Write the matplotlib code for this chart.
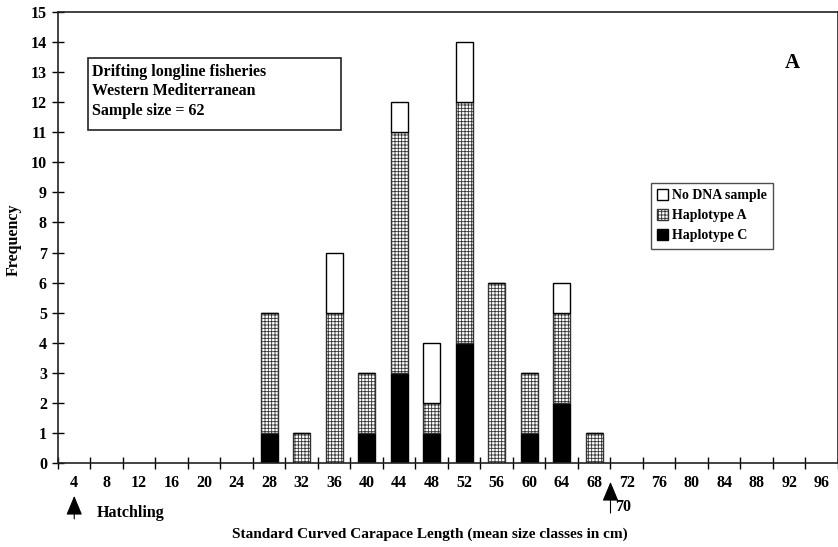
import numpy as np
import matplotlib.pyplot as plt
from matplotlib.patches import Rectangle

plt.rcParams['font.family'] = ['Liberation Serif', 'DejaVu Serif']
plt.rcParams['font.weight'] = 'bold'
plt.rcParams['hatch.linewidth'] = 0.6

# size classes (cm)
classes = list(range(4, 100, 4))
bar_classes = [28, 32, 36, 40, 44, 48, 52, 56, 60, 64, 68]
hap_c = [1, 0, 0, 1, 3, 1, 4, 0, 1, 2, 0]
hap_a = [4, 1, 5, 2, 8, 1, 8, 6, 2, 3, 1]
no_dna = [0, 0, 2, 0, 1, 2, 2, 0, 0, 1, 0]

fig = plt.figure(figsize=(8.38, 5.47), dpi=100)
ax = fig.add_axes([0.0692, 0.1536, 0.9308, 0.8244])

x = np.array(bar_classes)
c = np.array(hap_c)
a = np.array(hap_a)
n = np.array(no_dna)
w = 2.1
ax.bar(x, c, w, color='black', edgecolor='black', lw=1, label='Haplotype C')
ax.bar(x, a, w, bottom=c, color='white', edgecolor='#333333', hatch='+++++',
       lw=1, label='Haplotype A')
ax.bar(x, n, w, bottom=c + a, color='white', edgecolor='black', lw=1,
       label='No DNA sample')

ax.set_xlim(2, 98)
ax.set_ylim(0, 15)
ax.set_yticks(range(0, 16))
ax.set_xticks(classes)
ax.set_xticklabels([str(v) for v in classes])
ax.set_xticks(np.arange(2, 99, 4), minor=True)
ax.tick_params(axis='x', which='major', length=0, pad=9, labelsize=11.5)
ax.tick_params(axis='x', which='minor', direction='inout', length=8, width=1)
ax.tick_params(axis='y', direction='inout', length=8, width=1, labelsize=11.5, pad=4)
for s in ax.spines.values():
    s.set_linewidth(1.2)
    s.set_color('#222222')

ax.set_ylabel('Frequency', fontsize=11.5, fontweight='bold')
ax.yaxis.set_label_coords(-0.047, 0.494)
ax.set_xlabel('Standard Curved Carapace Length (mean size classes in cm)',
              fontsize=11, fontweight='bold')
ax.xaxis.set_label_coords(0.477, -0.143)

# info box
ax.add_patch(Rectangle((0.038, 0.738), 0.325, 0.160, transform=ax.transAxes,
                       fill=False, edgecolor='#222222', lw=1.2))
ax.text(0.044, 0.868, 'Drifting longline fisheries', transform=ax.transAxes,
        fontsize=11.5, va='center', ha='left')
ax.text(0.044, 0.824, 'Western Mediterranean', transform=ax.transAxes,
        fontsize=11.5, va='center', ha='left')
ax.text(0.044, 0.780, 'Sample size = 62', transform=ax.transAxes,
        fontsize=11.5, va='center', ha='left')

ax.text(0.942, 0.887, 'A', transform=ax.transAxes, fontsize=15, ha='center', va='center')

h, l = ax.get_legend_handles_labels()
leg = ax.legend(h[::-1], l[::-1], loc='upper left', bbox_to_anchor=(0.760, 0.621),
                fontsize=10, frameon=True, fancybox=False, edgecolor='#222222',
                handlelength=0.8, handleheight=0.8, handletextpad=0.3,
                borderpad=0.45, labelspacing=0.5, borderaxespad=0)
leg.get_frame().set_linewidth(1)

# arrows below the axis
tr = ax.get_xaxis_transform()
arrow = dict(arrowstyle='-|>,head_width=0.5,head_length=1.2', color='black',
             lw=0.8, shrinkA=0, shrinkB=0)
ax.annotate('', xy=(4, -0.073), xytext=(4, -0.124), xycoords=tr, textcoords=tr,
            arrowprops=arrow, annotation_clip=False)
ax.text(6.8, -0.111, 'Hatchling', transform=tr, fontsize=11.5, va='center', ha='left')
ax.annotate('', xy=(70, -0.042), xytext=(70, -0.111), xycoords=tr, textcoords=tr,
            arrowprops=arrow, annotation_clip=False)
ax.text(70.6, -0.098, '70', transform=tr, fontsize=11.5, va='center', ha='left')

fig.savefig('out.png', dpi=100)
